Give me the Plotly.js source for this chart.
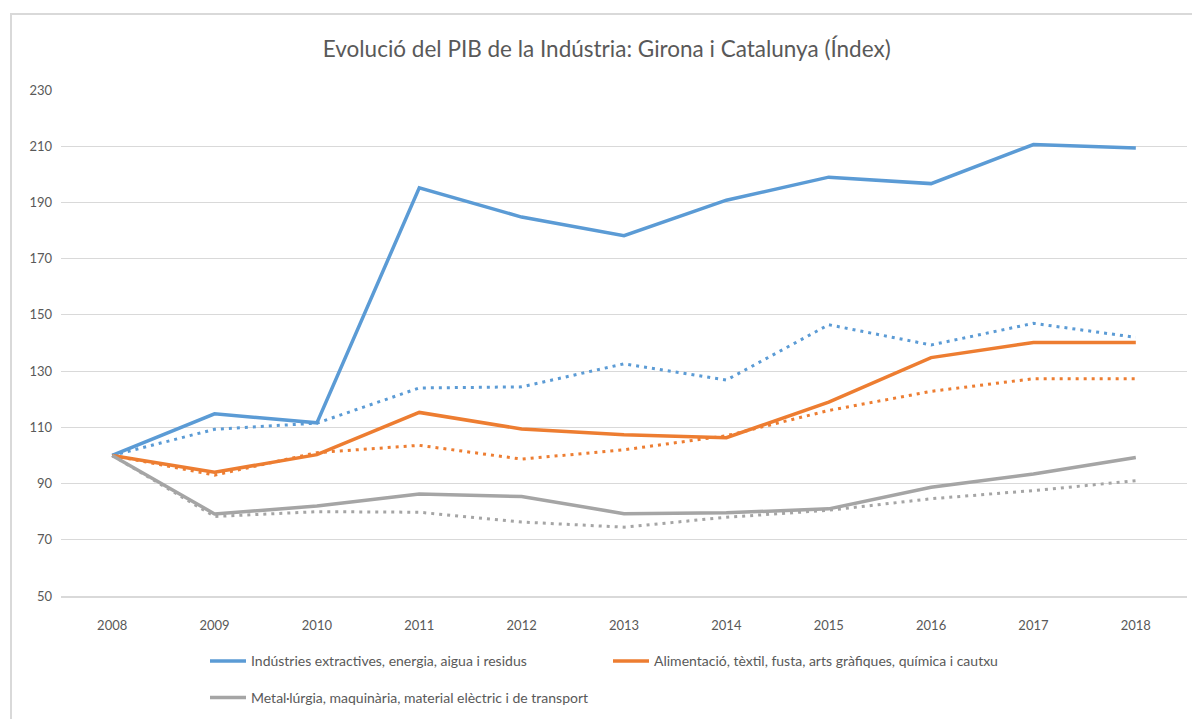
<!DOCTYPE html>
<html>
<head>
<meta charset="utf-8">
<script src="https://cdn.plot.ly/plotly-3.0.1.min.js"></script>
<style>
html,body{margin:0;padding:0;background:#fff;}
#wrap{position:relative;width:1192px;height:719px;overflow:hidden;}
#chart{position:absolute;left:0;top:0;width:1192px;height:719px;}
#frame{position:absolute;left:10px;top:13px;width:1300px;height:800px;border:2px solid #d9d9d9;pointer-events:none;box-sizing:border-box;}
</style>
</head>
<body>
<div id="wrap"><div id="chart"></div><div id="frame"></div></div>
<script>
const years = [2008, 2009, 2010, 2011, 2012, 2013, 2014, 2015, 2016, 2017, 2018];
const yTicks = [50, 70, 90, 110, 130, 150, 170, 190, 210, 230];

const seriesNames = [
  "Indústries extractives, energia, aigua i residus",
  "Alimentació, tèxtil, fusta, arts gràfiques, química i cautxu",
  "Metal·lúrgia, maquinària, material elèctric i de transport"
];

// Girona (solid)
const extractivesGirona = [100, 114.8, 111.6, 195.2, 184.8, 178.2, 190.8, 199.0, 196.7, 210.6, 209.4];
const alimentacioGirona = [100, 94.0, 100.3, 115.3, 109.4, 107.4, 106.3, 119.0, 134.8, 140.2, 140.2];
const metallurgiaGirona = [100, 79.2, 82.0, 86.3, 85.4, 79.3, 79.6, 81.0, 88.7, 93.4, 99.3];

// Catalunya (dotted)
const extractivesCat = [100, 109.3, 111.5, 124.0, 124.4, 132.6, 126.8, 146.5, 139.3, 147.0, 142.0];
const alimentacioCat = [100, 93.0, 101.0, 103.6, 98.7, 102.0, 107.0, 116.0, 122.8, 127.3, 127.3];
const metallurgiaCat = [100, 78.3, 80.0, 79.8, 76.3, 74.5, 78.0, 80.5, 84.6, 87.5, 91.0];

const colors = ["#5B9BD5", "#ED7D31", "#A5A5A5"];
const FONT = "Lato, 'Open Sans', sans-serif";
const TXT = "#595959";

function solid(y, i, leg) {
  return {x: years, y: y, type: "scatter", mode: "lines", name: seriesNames[i],
    line: {color: colors[i], width: 3.5}, legend: leg, hoverinfo: "x+y"};
}
function dotted(y, i) {
  return {x: years, y: y, type: "scatter", mode: "lines", name: seriesNames[i] + " (Catalunya)",
    line: {color: colors[i], width: 3, dash: "3px,5px"}, showlegend: false, hoverinfo: "x+y"};
}

const data = [
  dotted(extractivesCat, 0),
  dotted(alimentacioCat, 1),
  dotted(metallurgiaCat, 2),
  solid(extractivesGirona, 0, "legend"),
  solid(alimentacioGirona, 1, "legend2"),
  solid(metallurgiaGirona, 2, "legend3")
];

const plotW = 1192 - 61 - 5;
const plotH = 719 - 90 - 117;
function px2x(p) { return (p - 61) / plotW; }
function py2y(p) { return (602 - p) / plotH; }

const legBase = {orientation: "h", xanchor: "left", yanchor: "top", bgcolor: "rgba(0,0,0,0)",
  font: {family: FONT, size: 14, color: TXT}, itemwidth: 36};

const layout = {
  width: 1192, height: 719,
  margin: {l: 61, r: 5, t: 90, b: 117},
  paper_bgcolor: "#ffffff", plot_bgcolor: "#ffffff",
  font: {family: FONT, color: TXT},
  title: {text: "Evolució del PIB de la Indústria: Girona i Catalunya (Índex)",
    font: {family: FONT, size: 22.5, color: TXT}, x: 0.509, xanchor: "center", y: 0.932, yanchor: "middle"},
  xaxis: {range: [2007.5, 2018.5], tickvals: years, ticktext: years.map(String),
    showgrid: false, zeroline: false, showline: true, linecolor: "#d9d9d9", linewidth: 1.5,
    ticks: "", tickfont: {family: FONT, size: 13, color: TXT}, ticklabelstandoff: 17, fixedrange: true},
  yaxis: {range: [50, 230], tickvals: yTicks, showgrid: true, gridcolor: "#d9d9d9", gridwidth: 1.2,
    zeroline: false, showline: false, ticks: "", tickfont: {family: FONT, size: 13, color: TXT},
    ticklabelstandoff: 8, fixedrange: true},
  legend: Object.assign({}, legBase, {x: px2x(205), y: py2y(652)}),
  legend2: Object.assign({}, legBase, {x: px2x(608), y: py2y(652)}),
  legend3: Object.assign({}, legBase, {x: px2x(205), y: py2y(689)}),
  showlegend: true
};

Plotly.newPlot("chart", data, layout, {displayModeBar: false, staticPlot: true});
</script>
</body>
</html>
